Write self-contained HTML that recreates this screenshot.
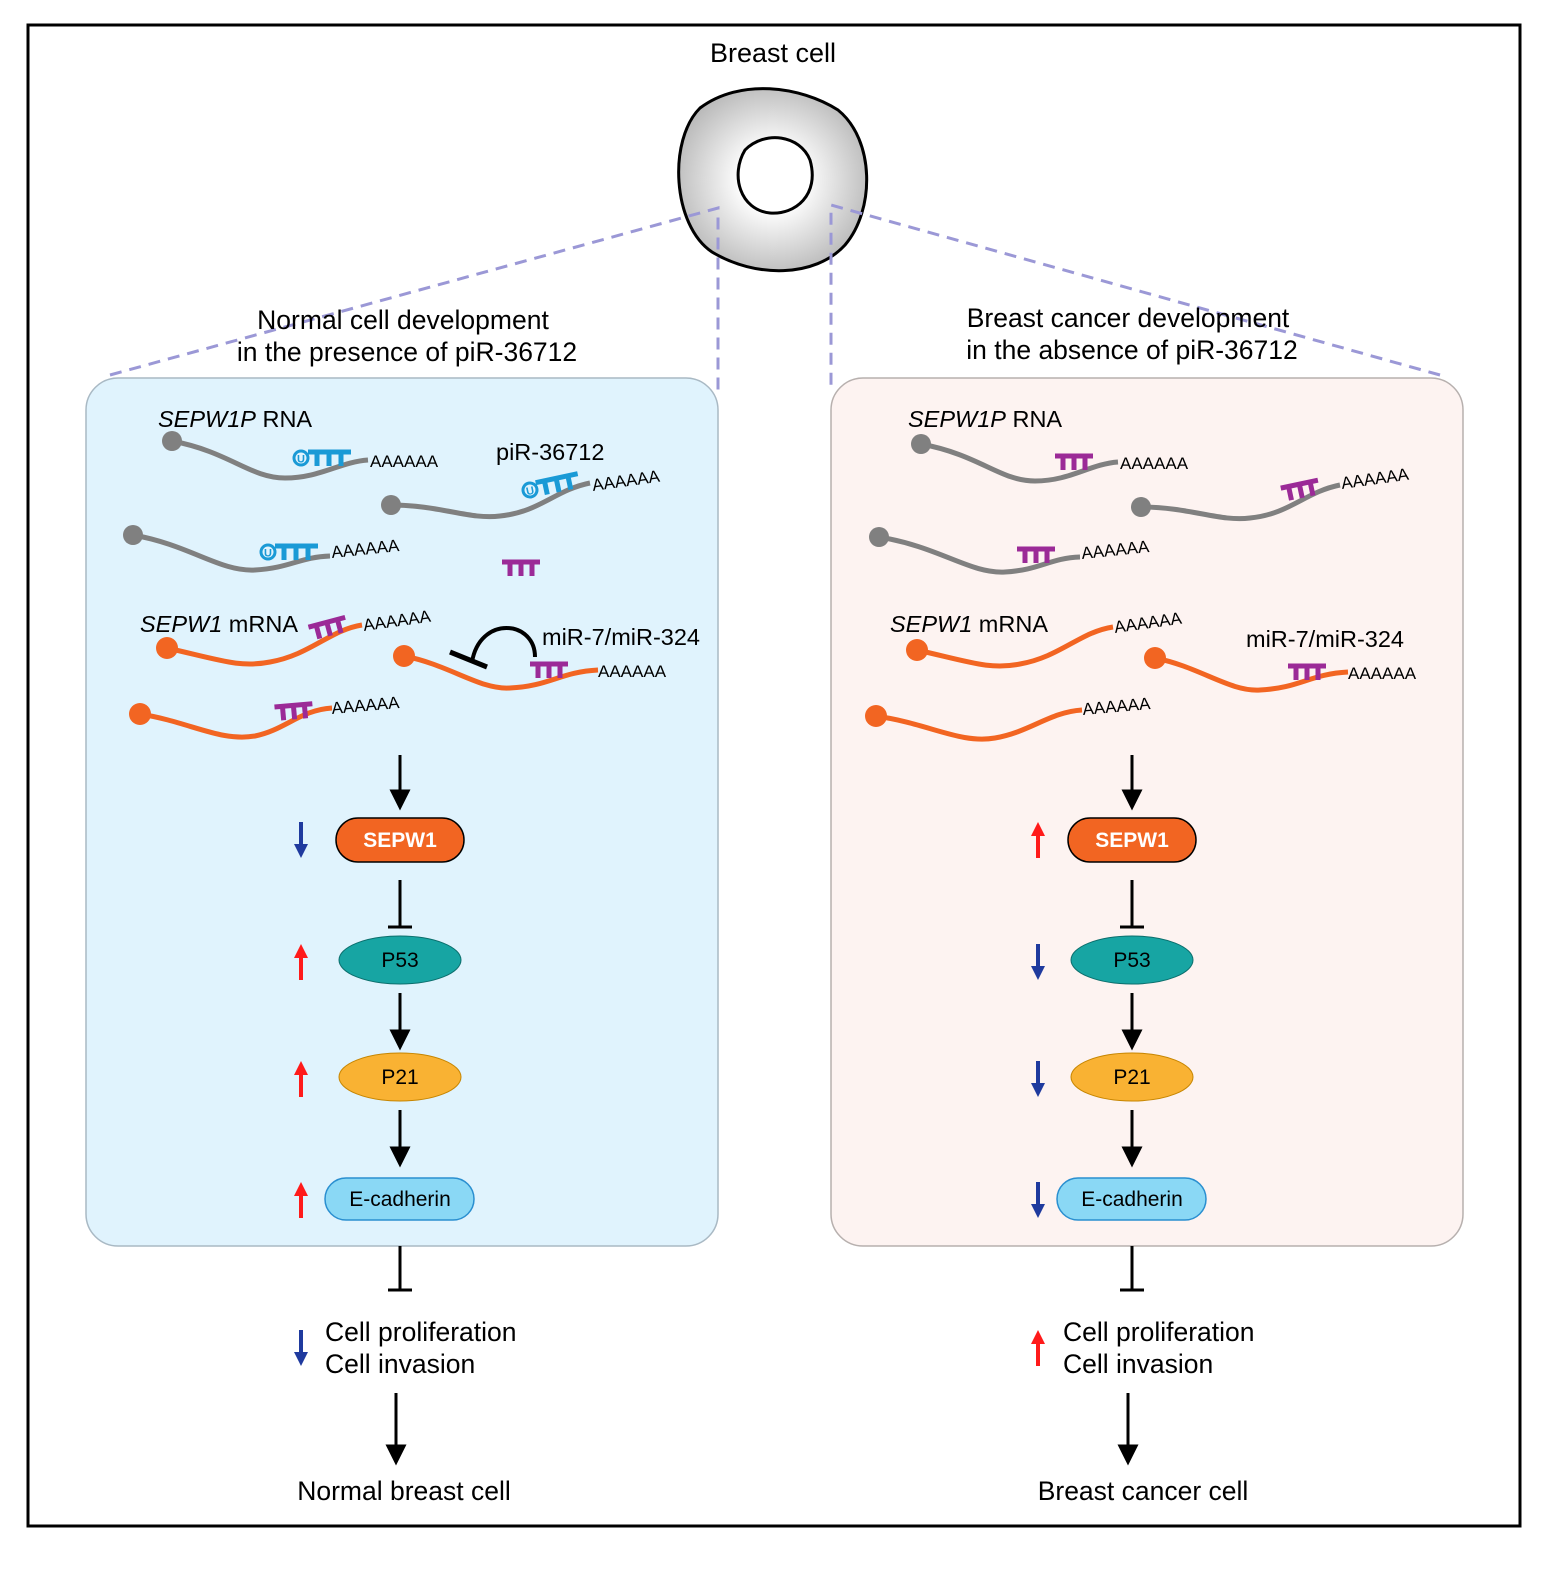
<!DOCTYPE html>
<html><head><meta charset="utf-8"><style>
html,body{margin:0;padding:0;background:#fff}
svg{display:block}
text{font-family:"Liberation Sans",Arial,sans-serif}
</style></head><body>
<svg width="1555" height="1576" viewBox="0 0 1555 1576" xmlns="http://www.w3.org/2000/svg">
<defs>
<radialGradient id="cg" cx="0.5" cy="0.5" r="0.55">
<stop offset="0.3" stop-color="#ffffff"/><stop offset="1" stop-color="#b8b8b8"/>
</radialGradient>
<marker id="ah" viewBox="0 0 10 10" refX="5" refY="5" markerWidth="7" markerHeight="7" orient="auto">
<path d="M0,0 L10,5 L0,10 Z" fill="#000"/></marker>
<g id="piw">
<circle cx="0" cy="0" r="7" fill="none" stroke="#1a9ad6" stroke-width="3"/>
<text x="0" y="4.5" font-size="11" font-weight="bold" fill="#1a9ad6" text-anchor="middle">U</text>
<path d="M7,-6 H50 M16,-6 V8 M28,-6 V8 M40,-6 V8" stroke="#1a9ad6" stroke-width="5" fill="none"/>
</g>
<g id="mir">
<path d="M0,-6 H38 M8,-6 V8 M19,-6 V8 M30,-6 V8" stroke="#9b2a97" stroke-width="5" fill="none"/>
</g>
<g id="up"><path d="M0,18 V-6" stroke="#ff1a1a" stroke-width="4"/><path d="M-7,-4 L0,-18 L7,-4 Z" fill="#ff1a1a"/></g>
<g id="dn"><path d="M0,-18 V6" stroke="#1f3a9e" stroke-width="4"/><path d="M-7,4 L0,18 L7,4 Z" fill="#1f3a9e"/></g>
</defs>

<rect x="28" y="25" width="1492" height="1501" fill="none" stroke="#000" stroke-width="3"/>

<text x="773" y="62" font-size="27" text-anchor="middle">Breast cell</text>
<path d="M700,108 C740,78 800,86 838,110 C875,140 875,210 845,245 C815,278 755,278 712,252 C672,225 668,140 700,108 Z" fill="url(#cg)" stroke="#000" stroke-width="3"/>
<path d="M745,150 C765,130 800,135 810,160 C820,195 795,215 770,213 C740,210 730,175 745,150 Z" fill="#fff" stroke="#000" stroke-width="3"/>

<g stroke="#9b98d6" stroke-width="3" stroke-dasharray="12,8" fill="none">
<path d="M110,375 L718,208 L718,390"/>
<path d="M1440,375 L831,205 L831,390"/>
</g>

<text x="403" y="329" font-size="26.5" text-anchor="middle">Normal cell development</text>
<text x="407" y="361" font-size="26.5" text-anchor="middle">in the presence of piR-36712</text>
<text x="1128" y="327" font-size="26.5" text-anchor="middle">Breast cancer development</text>
<text x="1132" y="359" font-size="26.5" text-anchor="middle">in the absence of piR-36712</text>

<rect x="86" y="378" width="632" height="868" rx="32" fill="#e0f3fd" stroke="#a9b9c4" stroke-width="1.5"/>
<rect x="831" y="378" width="632" height="868" rx="32" fill="#fdf3f1" stroke="#b7b0ae" stroke-width="1.5"/>

<!-- LEFT RNA -->
<g font-size="17">
<text x="158" y="427" font-size="23.5"><tspan font-style="italic">SEPW1P</tspan> RNA</text>
<text x="496" y="460" font-size="23.5">piR-36712</text>
<text x="140" y="632" font-size="23.5"><tspan font-style="italic">SEPW1</tspan> mRNA</text>
<text x="542" y="645" font-size="23.5">miR-7/miR-324</text>

<g fill="none" stroke="#808080" stroke-width="5">
<path d="M172,441 C230,452 250,478 285,478 C320,478 340,462 368,460"/>
<path d="M391,505 C440,505 470,520 500,516 C540,512 555,490 590,483"/>
<path d="M133,535 C190,545 220,572 255,570 C290,568 300,557 330,556"/>
</g>
<g fill="#808080"><circle cx="172" cy="441" r="10"/><circle cx="391" cy="505" r="10"/><circle cx="133" cy="535" r="10"/></g>
<use href="#piw" x="301" y="458"/>
<use href="#piw" x="530" y="490" transform="rotate(-12 530 490)"/>
<use href="#piw" x="268" y="552"/>
<text x="370" y="467">AAAAAA</text>
<text x="593" y="491" transform="rotate(-8 593 491)">AAAAAA</text>
<text x="332" y="558" transform="rotate(-6 332 558)">AAAAAA</text>
<use href="#mir" x="502" y="568"/>

<g fill="none" stroke="#f26522" stroke-width="5">
<path d="M167,648 C220,660 240,668 270,662 C310,655 330,630 362,625"/>
<path d="M404,656 C450,665 480,690 510,688 C550,686 560,672 598,670"/>
<path d="M140,714 C190,722 220,742 255,736 C285,730 300,710 332,708"/>
</g>
<g fill="#f26522"><circle cx="167" cy="648" r="11"/><circle cx="404" cy="656" r="11"/><circle cx="140" cy="714" r="11"/></g>
<use href="#mir" x="310" y="633" transform="rotate(-15 310 633)"/>
<use href="#mir" x="530" y="670"/>
<use href="#mir" x="275" y="713" transform="rotate(-5 275 713)"/>
<text x="364" y="631" transform="rotate(-8 364 631)">AAAAAA</text>
<text x="598" y="677">AAAAAA</text>
<text x="332" y="714" transform="rotate(-5 332 714)">AAAAAA</text>
<path d="M535,657 C535,620 480,615 472,662" fill="none" stroke="#000" stroke-width="4"/>
<path d="M450,652 L487,667" stroke="#000" stroke-width="5"/>
</g>

<!-- RIGHT RNA -->
<g font-size="17">
<text x="908" y="427" font-size="23.5"><tspan font-style="italic">SEPW1P</tspan> RNA</text>
<text x="890" y="632" font-size="23.5"><tspan font-style="italic">SEPW1</tspan> mRNA</text>
<text x="1246" y="647" font-size="23.5">miR-7/miR-324</text>

<g fill="none" stroke="#808080" stroke-width="5">
<path d="M921,444 C980,455 1000,481 1035,481 C1070,481 1090,464 1118,462"/>
<path d="M1141,507 C1190,507 1220,522 1250,518 C1290,514 1305,492 1340,485"/>
<path d="M879,537 C940,547 970,574 1005,572 C1040,570 1050,558 1080,557"/>
</g>
<g fill="#808080"><circle cx="921" cy="444" r="10"/><circle cx="1141" cy="507" r="10"/><circle cx="879" cy="537" r="10"/></g>
<use href="#mir" x="1055" y="462"/>
<use href="#mir" x="1282" y="494" transform="rotate(-12 1282 494)"/>
<use href="#mir" x="1017" y="555"/>
<text x="1120" y="469">AAAAAA</text>
<text x="1342" y="489" transform="rotate(-8 1342 489)">AAAAAA</text>
<text x="1082" y="559" transform="rotate(-6 1082 559)">AAAAAA</text>

<g fill="none" stroke="#f26522" stroke-width="5">
<path d="M917,650 C970,662 990,670 1020,664 C1060,657 1080,632 1113,627"/>
<path d="M1155,658 C1200,667 1230,692 1260,690 C1300,688 1310,674 1348,672"/>
<path d="M876,716 C930,724 960,744 995,738 C1030,732 1050,712 1082,710"/>
</g>
<g fill="#f26522"><circle cx="917" cy="650" r="11"/><circle cx="1155" cy="658" r="11"/><circle cx="876" cy="716" r="11"/></g>
<use href="#mir" x="1288" y="672"/>
<text x="1115" y="633" transform="rotate(-8 1115 633)">AAAAAA</text>
<text x="1348" y="679">AAAAAA</text>
<text x="1083" y="715" transform="rotate(-5 1083 715)">AAAAAA</text>
</g>

<!-- PATHWAYS -->
<g id="pathL">
<path d="M400,755 V800" stroke="#000" stroke-width="3" marker-end="url(#ah)"/>
<rect x="336" y="818" width="128" height="44" rx="22" fill="#f26522" stroke="#000" stroke-width="1.5"/>
<text x="400" y="847" font-size="21" font-weight="bold" fill="#fff" text-anchor="middle">SEPW1</text>
<path d="M400,880 V927 M388,927 H412" stroke="#000" stroke-width="3"/>
<ellipse cx="400" cy="960" rx="61" ry="24" fill="#17a5a3" stroke="#0b6e6c" stroke-width="1"/>
<text x="400" y="967" font-size="21" text-anchor="middle">P53</text>
<path d="M400,993 V1040" stroke="#000" stroke-width="3" marker-end="url(#ah)"/>
<ellipse cx="400" cy="1077" rx="61" ry="24" fill="#f9b233" stroke="#c68500" stroke-width="1"/>
<text x="400" y="1084" font-size="21" text-anchor="middle">P21</text>
<path d="M400,1110 V1157" stroke="#000" stroke-width="3" marker-end="url(#ah)"/>
<rect x="325" y="1178" width="149" height="42" rx="21" fill="#8ad8f5" stroke="#2a8fd0" stroke-width="1.5"/>
<text x="400" y="1206" font-size="21" text-anchor="middle">E-cadherin</text>
<path d="M400,1246 V1290 M388,1290 H412" stroke="#000" stroke-width="3"/>
<path d="M396,1393 V1455" stroke="#000" stroke-width="3" marker-end="url(#ah)"/>
</g>
<use href="#dn" x="301" y="840"/>
<use href="#up" x="301" y="962"/>
<use href="#up" x="301" y="1079"/>
<use href="#up" x="301" y="1200"/>
<use href="#dn" x="301" y="1348"/>
<text x="325" y="1341" font-size="26.5">Cell proliferation</text>
<text x="325" y="1373" font-size="26.5">Cell invasion</text>
<text x="404" y="1500" font-size="26.5" text-anchor="middle">Normal breast cell</text>

<use href="#pathL" x="732"/>
<use href="#up" x="1038" y="840"/>
<use href="#dn" x="1038" y="962"/>
<use href="#dn" x="1038" y="1079"/>
<use href="#dn" x="1038" y="1200"/>
<use href="#up" x="1038" y="1348"/>
<text x="1063" y="1341" font-size="26.5">Cell proliferation</text>
<text x="1063" y="1373" font-size="26.5">Cell invasion</text>
<text x="1143" y="1500" font-size="26.5" text-anchor="middle">Breast cancer cell</text>
</svg>
</body></html>
